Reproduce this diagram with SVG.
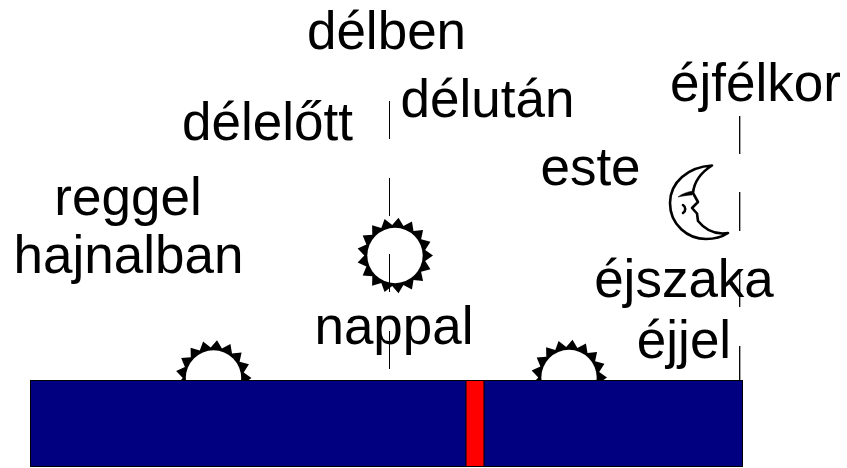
<svg xmlns="http://www.w3.org/2000/svg" width="847" height="468" viewBox="0 0 847 468">
<style>
text{font-family:"Liberation Sans",Arial,sans-serif;font-size:53px;fill:#000;text-anchor:middle}
.moon{fill:none;stroke:#000;stroke-width:2.6;stroke-linejoin:round;stroke-linecap:round}
</style>
<defs>
<g id="sun">
<polygon fill="#000" points="38,0 30.2,-5.6 35.44,-13.73 26.1,-16.2 28.08,-25.6 18.5,-24.5 16.94,-34.02 8.4,-29.6 3.51,-37.84 -2.8,-30.6 -10.4,-36.55 -13.7,-27.5 -22.9,-30.32 -22.7,-20.7 -32.31,-20 -28.6,-11.1 -37.35,-6.98 -30.7,0 -37.35,6.98 -28.6,11.1 -32.31,20 -22.7,20.7 -22.9,30.32 -13.7,27.5 -10.4,36.55 -2.8,30.6 3.51,37.84 8.4,29.6 16.94,34.02 18.5,24.5 28.08,25.6 26.1,16.2 35.44,13.73 30.2,5.6"/>
<circle r="27.7" fill="#fff"/>
</g>
</defs>
<g id="sun-morning"><use href="#sun" x="213.500" y="378"/></g>
<g id="sun-noon"><use href="#sun" x="395" y="255.500"/></g>
<g id="sun-evening"><use href="#sun" x="569" y="377.500"/></g>
<g id="connectors" fill="none" stroke="#000">
<path d="M389.500 101V139M389.500 178V216M389.500 254V292M389.500 331V369"/>
<path stroke-width="1.300" d="M739.700 116V154M739.700 192V231M739.700 269V307M739.700 346V380"/>
</g>
<g id="moon">
<path class="moon" d="M712 165.500C688 167 670 182 670 203C670 225 688 239 706 239C715 239 722 237 728 233C715 235 706 231 698 221L697 213.500L692 208L698 202L693 193C694 183 700 173 712 165.500Z"/>
<path d="M678 197C683 193 688 192 693 191L692 195C688 195 683 196 678 197Z" fill="#000" stroke="#000" stroke-width="0.500"/>
<path class="moon" stroke-width="2" d="M683 205C686 207 686 211 683 213"/>
</g>
<g id="bar"><rect x="30.500" y="380.500" width="712" height="86" fill="#000080" stroke="#000"/></g>
<g id="marker"><rect x="466" y="380.500" width="18" height="86" fill="#f00" stroke="#000"/></g>
<g id="labels">
<text x="386.500" y="49">délben</text>
<text x="267.500" y="139.500">délelőtt</text>
<text x="487.500" y="117">délután</text>
<text x="755.500" y="101">éjfélkor</text>
<text x="590.500" y="185">este</text>
<text x="128" y="215">reggel</text>
<text x="128.500" y="273">hajnalban</text>
<text x="684" y="296.500">éjszaka</text>
<text x="684" y="358">éjjel</text>
<text x="394" y="344">nappal</text>
</g>
</svg>
